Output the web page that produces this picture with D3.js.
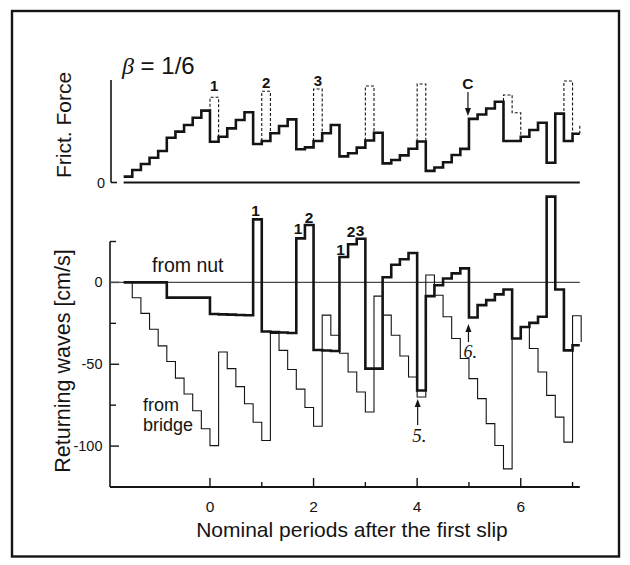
<!DOCTYPE html>
<html>
<head>
<meta charset="utf-8">
<script src="https://cdn.jsdelivr.net/npm/d3@7"></script>
<style>
  html, body { margin: 0; padding: 0; background: #fff; }
  svg { display: block; font-family: "Liberation Sans", Arial, Helvetica, sans-serif; }
</style>
</head>
<body>
<svg id="chart" width="630" height="565"></svg>
<script>
// time is counted in steps of 1/6 nominal period (beta = 1/6); first step is k = -10
const firstStep = -10;
const stepsPerPeriod = 6;
const endPeriod = 7.14;

// friction force (arbitrary units, axis top = 1), one value per step k = -10 .. 42
const frictForce = [
  0.057, 0.122, 0.180, 0.242, 0.307, 0.437, 0.496, 0.561, 0.632, 0.701,
  0.398, 0.447, 0.528, 0.610, 0.685,
  0.376, 0.405, 0.480, 0.551, 0.616,
  0.324, 0.343, 0.405, 0.480, 0.561,
  0.255, 0.285, 0.340, 0.410, 0.486,
  0.187, 0.220, 0.265, 0.330, 0.400,
  0.113, 0.146, 0.198, 0.268, 0.328,
  0.621, 0.663, 0.722, 0.788,
  0.405, 0.405, 0.447, 0.512, 0.583,
  0.193, 0.672, 0.405, 0.475
];
// dashed alternatives: step where they start and their levels
const frictDashed = [
  { k: 0, tops: [0.831] },
  { k: 6, tops: [0.890] },
  { k: 12, tops: [0.912] },
  { k: 18, tops: [0.941] },
  { k: 24, tops: [0.961] },
  { k: 34, tops: [0.854, 0.681] },
  { k: 41, tops: [0.990] }
];
// start of the next dashed box, cut by the right end of the axis
const frictTailTop = 0.555;

// returning waves [cm/s], k = -10 .. 42
const nutWaves = [
  0, 0, 0, 0, 0,
  -9.3, -9.3, -9.3, -9.3, -9.3,
  -19.3, -19.5, -19.7, -19.9, -20.1,
  38.5,
  -30.0, -30.3, -30.6, -30.9,
  26.9, 35.1,
  -41.3, -41.6, -41.9,
  15.5, 23.3, 26.7,
  -52.7, -52.7,
  3.2, 10.8, 14.2, 18.0,
  -66.0,
  -8.4, -1.7, 2.4, 5.5, 8.6,
  -21.4, -13.9, -10.8, -7.3, -4.3,
  -34.3, -27.2, -24.7, -21.0,
  52.4, -4.3, -41.5, -38.4
];
// k = -10 .. 43
const bridgeWaves = [
  0, -9.4, -18.9, -28.6, -38.8, -48.3, -58.5, -68.2, -78.4, -89.4, -99.7,
  -42.5, -52.7, -63.7, -74.1, -85.4, -96.6,
  -31.2, -41.5, -53.2, -65.2, -76.4, -87.9,
  -20.0, -32.3, -43.3, -54.7, -67.0, -79.2,
  -8.4, -20.0, -32.3, -45.0, -57.8, -70.0,
  4.5, -7.8, -21.0, -34.3, -46.5, -58.8, -71.0, -86.3, -99.6, -113.9,
  -34.3, -27.2, -40.4, -54.7, -69.0, -82.3, -97.6,
  -20.4, -36.4
];

const xTicks = [0, 1, 2, 3, 4, 5, 6, 7];
const xTickLabels = [0, 2, 4, 6];
const yTicks = [25, 0, -25, -50, -75, -100];
const yTickLabels = [0, -50, -100];

const svg = d3.select("#chart");
const ink = "#141414";
const serif = "'Liberation Serif', 'Times New Roman', serif";

svg.append("rect")
  .attr("x", 12).attr("y", 11).attr("width", 607).attr("height", 545.5)
  .attr("fill", "none").attr("stroke", ink).attr("stroke-width", 2.4);

const x = d3.scaleLinear().domain([-1.93, endPeriod]).range([110, 579.8]);
const yF = d3.scaleLinear().domain([0, 1]).range([182.5, 80]);
const yW = d3.scaleLinear().domain([-125, 25]).range([487, 241.5]);

function stepPoints(values, endT) {
  const pts = values.map((v, i) => [(firstStep + i) / stepsPerPeriod, v]);
  pts.push([Math.max(endT, pts[pts.length - 1][0]), values[values.length - 1]]);
  return pts;
}

function arrow(g, ax, yTail, yTip) {
  const dir = yTip > yTail ? 1 : -1;
  g.append("line")
    .attr("x1", ax).attr("x2", ax).attr("y1", yTail).attr("y2", yTip - dir * 6)
    .attr("stroke", ink).attr("stroke-width", 1.2);
  g.append("path")
    .attr("d", `M${ax},${yTip} L${ax - 3},${yTip - dir * 8} L${ax + 3},${yTip - dir * 8} Z`)
    .attr("fill", ink);
}

// ---------- top panel: friction force ----------
const gTop = svg.append("g");
gTop.append("line")
  .attr("x1", 111).attr("x2", 111).attr("y1", yF(1)).attr("y2", yF(0))
  .attr("stroke", ink).attr("stroke-width", 1.6);
gTop.append("line")
  .attr("x1", 111).attr("x2", 117).attr("y1", yF(0)).attr("y2", yF(0))
  .attr("stroke", ink).attr("stroke-width", 1.6);
gTop.append("line")
  .attr("x1", x(firstStep / stepsPerPeriod)).attr("x2", x(endPeriod))
  .attr("y1", yF(0)).attr("y2", yF(0))
  .attr("stroke", ink).attr("stroke-width", 1.8);
gTop.append("text")
  .attr("x", 105).attr("y", yF(0)).attr("dy", "0.35em")
  .attr("text-anchor", "end").attr("font-size", 14.5).attr("fill", ink).text("0");
gTop.append("text")
  .attr("transform", "translate(71,125) rotate(-90)")
  .attr("text-anchor", "middle").attr("font-size", 21).attr("fill", ink)
  .text("Frict. Force");
const beta = gTop.append("text")
  .attr("x", 122).attr("y", 74).attr("font-size", 24).attr("fill", ink);
beta.append("tspan").attr("font-family", serif).attr("font-style", "italic").text("β");
beta.append("tspan").text(" = 1/6");

const stepLineF = d3.line()
  .x((d) => x(d[0])).y((d) => yF(d[1])).curve(d3.curveStepAfter);
const plainLineF = d3.line().x((d) => x(d[0])).y((d) => yF(d[1]));

frictDashed.forEach((b) => {
  const i0 = b.k - firstStep;
  const pts = [[b.k / stepsPerPeriod, frictForce[i0]]];
  b.tops.forEach((v, j) => {
    pts.push([(b.k + j) / stepsPerPeriod, v]);
    pts.push([(b.k + j + 1) / stepsPerPeriod, v]);
  });
  const kEnd = b.k + b.tops.length;
  pts.push([kEnd / stepsPerPeriod, frictForce[kEnd - firstStep]]);
  gTop.append("path")
    .attr("d", plainLineF(pts))
    .attr("fill", "none").attr("stroke", ink).attr("stroke-width", 1.1)
    .attr("stroke-dasharray", "3,2");
});
gTop.append("path")
  .attr("d", plainLineF([[endPeriod, frictForce[frictForce.length - 1]], [endPeriod, frictTailTop]]))
  .attr("fill", "none").attr("stroke", ink).attr("stroke-width", 1.1)
  .attr("stroke-dasharray", "3,2");

gTop.append("path")
  .attr("d", stepLineF(stepPoints(frictForce, endPeriod)))
  .attr("fill", "none").attr("stroke", ink).attr("stroke-width", 2.6)
  .attr("stroke-linejoin", "miter");

const topLabels = [
  { t: 0, text: "1", y: 91 },
  { t: 1, text: "2", y: 88 },
  { t: 2, text: "3", y: 85.5 }
];
topLabels.forEach((l) => {
  gTop.append("text")
    .attr("x", x(l.t + 0.5 / stepsPerPeriod)).attr("y", l.y)
    .attr("text-anchor", "middle").attr("font-size", 15).attr("font-weight", "bold")
    .attr("fill", ink).text(l.text);
});
gTop.append("text")
  .attr("x", x(5) - 1).attr("y", 88.5).attr("text-anchor", "middle")
  .attr("font-size", 15.5).attr("font-weight", "bold").attr("fill", ink).text("C");
arrow(gTop, x(5) - 1, 92, 116);

// ---------- bottom panel: returning waves ----------
const gBot = svg.append("g");
gBot.append("line")
  .attr("x1", 110).attr("x2", 110).attr("y1", yW(25)).attr("y2", yW(-125))
  .attr("stroke", ink).attr("stroke-width", 1.6);
gBot.append("line")
  .attr("x1", 110).attr("x2", x(endPeriod)).attr("y1", yW(-125)).attr("y2", yW(-125))
  .attr("stroke", ink).attr("stroke-width", 1.8);

gBot.selectAll(".ytick").data(yTicks).join("line")
  .attr("x1", 110).attr("x2", (d) => (yTickLabels.includes(d) ? 119 : 116))
  .attr("y1", (d) => yW(d)).attr("y2", (d) => yW(d))
  .attr("stroke", ink).attr("stroke-width", 1.4);
gBot.selectAll(".ylab").data(yTickLabels).join("text")
  .attr("x", 102.5).attr("y", (d) => yW(d)).attr("dy", "0.35em")
  .attr("text-anchor", "end").attr("font-size", 14.5).attr("fill", ink)
  .text((d) => d);

gBot.selectAll(".xtick").data(xTicks).join("line")
  .attr("x1", (d) => x(d)).attr("x2", (d) => x(d))
  .attr("y1", yW(-125)).attr("y2", (d) => yW(-125) - (xTickLabels.includes(d) ? 9 : 5))
  .attr("stroke", ink).attr("stroke-width", 1.4);
gBot.selectAll(".xlab").data(xTickLabels).join("text")
  .attr("x", (d) => x(d)).attr("y", 511.5)
  .attr("text-anchor", "middle").attr("font-size", 15.5).attr("fill", ink)
  .text((d) => d);

// zero reference line
gBot.append("line")
  .attr("x1", 110).attr("x2", x(endPeriod)).attr("y1", yW(0)).attr("y2", yW(0))
  .attr("stroke", "#4a4a4a").attr("stroke-width", 1.2);

const stepLineW = d3.line()
  .x((d) => x(d[0])).y((d) => yW(d[1])).curve(d3.curveStepAfter);

gBot.append("path")
  .attr("d", stepLineW(stepPoints(bridgeWaves, endPeriod)))
  .attr("fill", "none").attr("stroke", ink).attr("stroke-width", 1.1);
gBot.append("path")
  .attr("d", stepLineW(stepPoints(nutWaves, endPeriod)))
  .attr("fill", "none").attr("stroke", ink).attr("stroke-width", 2.6);

gBot.append("text")
  .attr("transform", "translate(69.5,361) rotate(-90)")
  .attr("text-anchor", "middle").attr("font-size", 21.5).attr("fill", ink)
  .text("Returning waves [cm/s]");
svg.append("text")
  .attr("x", 352).attr("y", 536.5).attr("text-anchor", "middle")
  .attr("font-size", 21).attr("fill", ink)
  .text("Nominal periods after the first slip");

gBot.append("text").attr("x", 152).attr("y", 272)
  .attr("font-size", 19.5).attr("fill", ink).text("from nut");
gBot.append("text").attr("x", 143).attr("y", 410.5)
  .attr("font-size", 18).attr("fill", ink).text("from");
gBot.append("text").attr("x", 143).attr("y", 430.5)
  .attr("font-size", 18).attr("fill", ink).text("bridge");

const botLabels = [
  { x: 255.5, y: 215.7, text: "1" },
  { x: 298, y: 234.3, text: "1" },
  { x: 309, y: 223.3, text: "2" },
  { x: 340.5, y: 255, text: "1" },
  { x: 351, y: 236.7, text: "2" },
  { x: 360, y: 235.7, text: "3" }
];
botLabels.forEach((l) => {
  gBot.append("text").attr("x", l.x).attr("y", l.y).attr("text-anchor", "middle")
    .attr("font-size", 15.5).attr("font-weight", "bold").attr("fill", ink).text(l.text);
});

arrow(gBot, x(4) + 0.5, 425, 399);
gBot.append("text").attr("x", x(4) - 5).attr("y", 441.5)
  .attr("font-family", serif).attr("font-style", "italic")
  .attr("font-size", 19).attr("fill", ink).text("5.");
arrow(gBot, x(5) - 0.5, 342, 324);
gBot.append("text").attr("x", x(5) - 5.5).attr("y", 358)
  .attr("font-family", serif).attr("font-style", "italic")
  .attr("font-size", 18).attr("fill", ink).text("6.");
</script>
</body>
</html>
